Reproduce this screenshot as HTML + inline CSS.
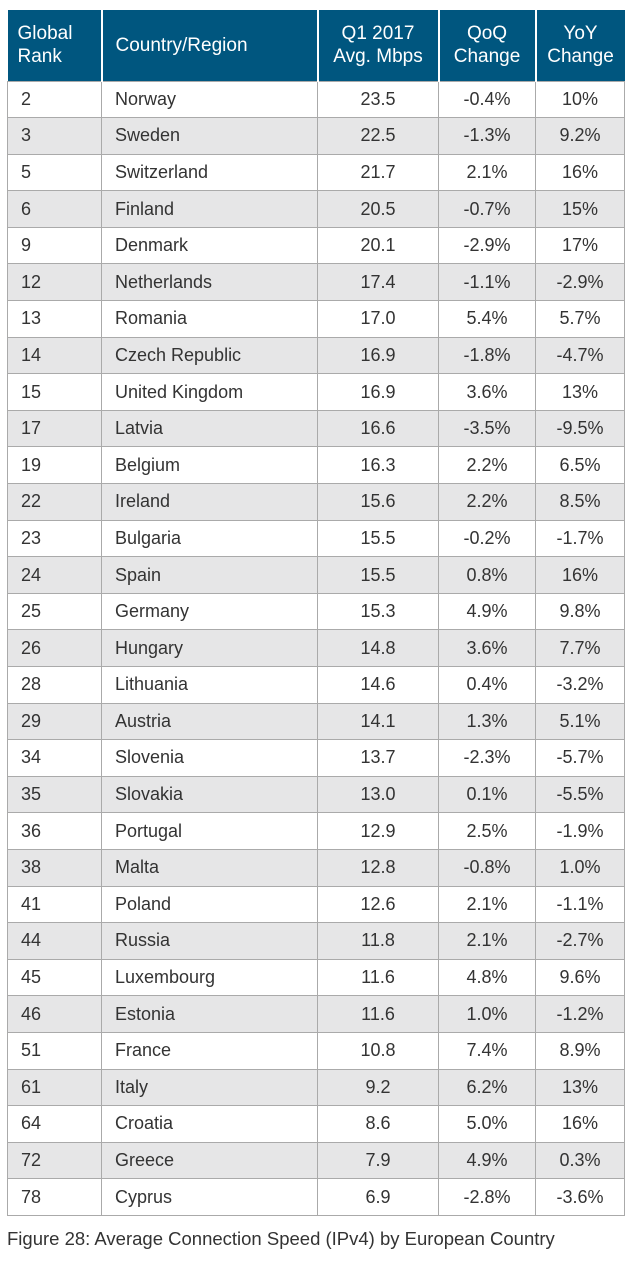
<!DOCTYPE html>
<html><head><meta charset="utf-8"><style>
body{margin:0;background:#fff;width:640px;height:1275px;overflow:hidden;font-family:"Liberation Sans",sans-serif;}
table{position:absolute;left:7px;top:10px;border-collapse:collapse;table-layout:fixed;width:617px;}
th{background:#00567f;color:#fff;font-weight:normal;font-size:19px;line-height:23px;height:71px;padding:0 0 0 10px;text-align:left;border-left:2px solid #fff;box-sizing:border-box;}
th:first-child{border-left:none}
th.c{text-align:center;padding:0}
td{height:36.6px;padding:0 0 0 13px;font-size:18px;color:#333;border:1px solid #aaa;box-sizing:border-box;}
td.c{text-align:center;padding:0}
tr:nth-child(even) td{background:#e6e6e7}
.cap{position:absolute;left:7px;top:1228px;font-size:18.5px;color:#333;}
</style></head><body>
<table>
<colgroup><col style="width:94px"><col style="width:216px"><col style="width:121px"><col style="width:97px"><col style="width:89px"></colgroup>
<thead><tr><th>Global<br>Rank</th><th style="padding-left:13px">Country/Region</th><th class="c">Q1 2017<br>Avg. Mbps</th><th class="c">QoQ<br>Change</th><th class="c">YoY<br>Change</th></tr></thead>
<tbody>
<tr><td>2</td><td>Norway</td><td class="c">23.5</td><td class="c">-0.4%</td><td class="c">10%</td></tr>
<tr><td>3</td><td>Sweden</td><td class="c">22.5</td><td class="c">-1.3%</td><td class="c">9.2%</td></tr>
<tr><td>5</td><td>Switzerland</td><td class="c">21.7</td><td class="c">2.1%</td><td class="c">16%</td></tr>
<tr><td>6</td><td>Finland</td><td class="c">20.5</td><td class="c">-0.7%</td><td class="c">15%</td></tr>
<tr><td>9</td><td>Denmark</td><td class="c">20.1</td><td class="c">-2.9%</td><td class="c">17%</td></tr>
<tr><td>12</td><td>Netherlands</td><td class="c">17.4</td><td class="c">-1.1%</td><td class="c">-2.9%</td></tr>
<tr><td>13</td><td>Romania</td><td class="c">17.0</td><td class="c">5.4%</td><td class="c">5.7%</td></tr>
<tr><td>14</td><td>Czech Republic</td><td class="c">16.9</td><td class="c">-1.8%</td><td class="c">-4.7%</td></tr>
<tr><td>15</td><td>United Kingdom</td><td class="c">16.9</td><td class="c">3.6%</td><td class="c">13%</td></tr>
<tr><td>17</td><td>Latvia</td><td class="c">16.6</td><td class="c">-3.5%</td><td class="c">-9.5%</td></tr>
<tr><td>19</td><td>Belgium</td><td class="c">16.3</td><td class="c">2.2%</td><td class="c">6.5%</td></tr>
<tr><td>22</td><td>Ireland</td><td class="c">15.6</td><td class="c">2.2%</td><td class="c">8.5%</td></tr>
<tr><td>23</td><td>Bulgaria</td><td class="c">15.5</td><td class="c">-0.2%</td><td class="c">-1.7%</td></tr>
<tr><td>24</td><td>Spain</td><td class="c">15.5</td><td class="c">0.8%</td><td class="c">16%</td></tr>
<tr><td>25</td><td>Germany</td><td class="c">15.3</td><td class="c">4.9%</td><td class="c">9.8%</td></tr>
<tr><td>26</td><td>Hungary</td><td class="c">14.8</td><td class="c">3.6%</td><td class="c">7.7%</td></tr>
<tr><td>28</td><td>Lithuania</td><td class="c">14.6</td><td class="c">0.4%</td><td class="c">-3.2%</td></tr>
<tr><td>29</td><td>Austria</td><td class="c">14.1</td><td class="c">1.3%</td><td class="c">5.1%</td></tr>
<tr><td>34</td><td>Slovenia</td><td class="c">13.7</td><td class="c">-2.3%</td><td class="c">-5.7%</td></tr>
<tr><td>35</td><td>Slovakia</td><td class="c">13.0</td><td class="c">0.1%</td><td class="c">-5.5%</td></tr>
<tr><td>36</td><td>Portugal</td><td class="c">12.9</td><td class="c">2.5%</td><td class="c">-1.9%</td></tr>
<tr><td>38</td><td>Malta</td><td class="c">12.8</td><td class="c">-0.8%</td><td class="c">1.0%</td></tr>
<tr><td>41</td><td>Poland</td><td class="c">12.6</td><td class="c">2.1%</td><td class="c">-1.1%</td></tr>
<tr><td>44</td><td>Russia</td><td class="c">11.8</td><td class="c">2.1%</td><td class="c">-2.7%</td></tr>
<tr><td>45</td><td>Luxembourg</td><td class="c">11.6</td><td class="c">4.8%</td><td class="c">9.6%</td></tr>
<tr><td>46</td><td>Estonia</td><td class="c">11.6</td><td class="c">1.0%</td><td class="c">-1.2%</td></tr>
<tr><td>51</td><td>France</td><td class="c">10.8</td><td class="c">7.4%</td><td class="c">8.9%</td></tr>
<tr><td>61</td><td>Italy</td><td class="c">9.2</td><td class="c">6.2%</td><td class="c">13%</td></tr>
<tr><td>64</td><td>Croatia</td><td class="c">8.6</td><td class="c">5.0%</td><td class="c">16%</td></tr>
<tr><td>72</td><td>Greece</td><td class="c">7.9</td><td class="c">4.9%</td><td class="c">0.3%</td></tr>
<tr><td>78</td><td>Cyprus</td><td class="c">6.9</td><td class="c">-2.8%</td><td class="c">-3.6%</td></tr>
</tbody></table>
<div class="cap">Figure 28: Average Connection Speed (IPv4) by European Country</div>
</body></html>
